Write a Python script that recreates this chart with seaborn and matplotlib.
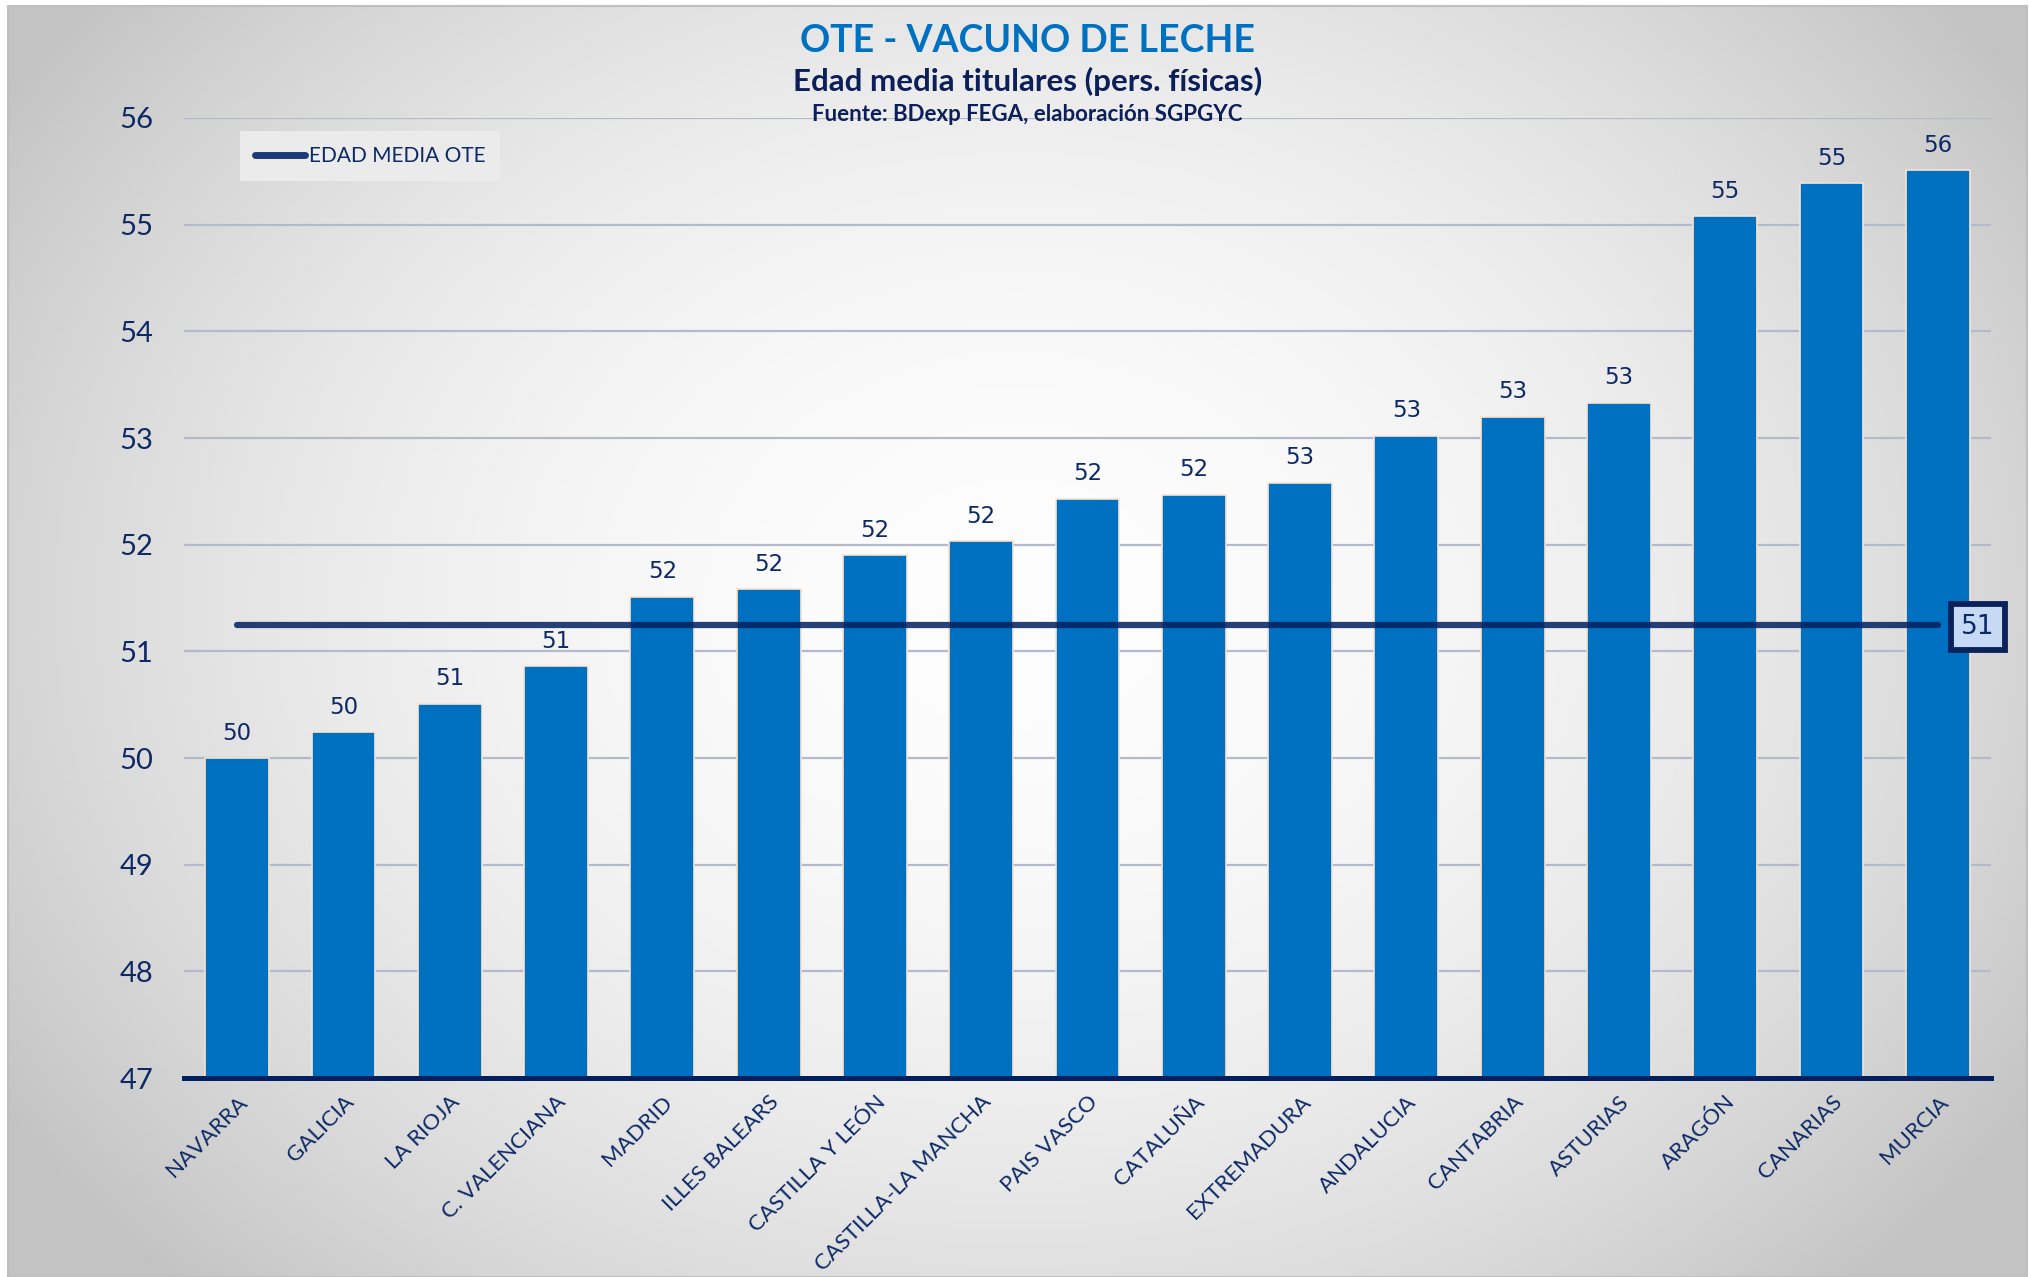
import numpy as np
import matplotlib
matplotlib.use('Agg')
import matplotlib.pyplot as plt
import seaborn as sns
from matplotlib.lines import Line2D

# datos
regions = ['NAVARRA', 'GALICIA', 'LA RIOJA', 'C. VALENCIANA', 'MADRID', 'ILLES BALEARS',
           'CASTILLA Y LEÓN', 'CASTILLA-LA MANCHA', 'PAIS VASCO', 'CATALUÑA', 'EXTREMADURA',
           'ANDALUCIA', 'CANTABRIA', 'ASTURIAS', 'ARAGÓN', 'CANARIAS', 'MURCIA']
ages = [50.0, 50.24, 50.51, 50.86, 51.51, 51.58, 51.9, 52.03, 52.43, 52.47, 52.58,
        53.02, 53.2, 53.33, 55.08, 55.39, 55.51]
mean_age = 51.25
y_ticks = [47, 48, 49, 50, 51, 52, 53, 54, 55, 56]

NAVY = '#0D2A66'
BLUE = '#0070C0'

sns.set_style('white')
plt.rcParams['font.family'] = ['Lato', 'DejaVu Sans']

fig = plt.figure(figsize=(20.31, 12.77), dpi=100)
fig.patch.set_facecolor('white')

# fondo con degradado radial
bg = fig.add_axes([0.0039, 0.0, 0.9941, 0.9953], zorder=-5)
gx, gy = np.meshgrid(np.linspace(0, 1, 400), np.linspace(0, 1, 300))
r2 = ((gx - 0.5) / 0.62) ** 2 + ((gy - 0.47) / 0.78) ** 2
shade = np.clip(253 - 62 * r2, 195, 253) / 255.0
bg.imshow(np.dstack([shade, shade, shade]), aspect='auto', extent=[0, 1, 0, 1])
bg.set_xticks([])
bg.set_yticks([])
for s in bg.spines.values():
    s.set_color('#BFBFBF')
    s.set_linewidth(1.5)

ax = fig.add_axes([0.0906, 0.1558, 0.8897, 0.7518])
ax.patch.set_alpha(0)

sns.barplot(x=regions, y=ages, color=BLUE, saturation=1, width=0.6,
            edgecolor='#FBE3CF', linewidth=1.2, ax=ax, zorder=3)

pos = np.arange(len(regions))
ax.plot(pos, [mean_age] * len(regions), color='#002060', alpha=0.85, lw=4.5,
        solid_capstyle='round', zorder=4)

ax.set_ylim(y_ticks[0], y_ticks[-1])
ax.set_xlim(-0.5, len(regions) - 0.5)
ax.set_yticks(y_ticks)
ax.yaxis.grid(True, color='#B4BACB', lw=1.6, zorder=0)
ax.set_axisbelow(True)
for side in ['top', 'right', 'left']:
    ax.spines[side].set_visible(False)
ax.spines['bottom'].set_color('#002060')
ax.spines['bottom'].set_linewidth(3.6)
ax.spines['bottom'].set_zorder(5)

ax.tick_params(axis='y', length=0, pad=22, labelsize=21, labelcolor=NAVY)
ax.tick_params(axis='x', length=0, pad=10, labelsize=16, labelcolor=NAVY)
for lab in ax.get_xticklabels():
    lab.set_rotation(45)
    lab.set_ha('right')
    lab.set_va('top')
    lab.set_rotation_mode('anchor')

# etiquetas de valor
for i, v in enumerate(ages):
    ax.annotate(f'{v:.0f}', (i, v), xytext=(0, 18), textcoords='offset points',
                ha='center', va='center', fontsize=16.5, color=NAVY,
                family='DejaVu Sans', zorder=6)

ax.annotate(f'{mean_age:.0f}', (len(regions) - 1, mean_age), xytext=(29, -2),
            textcoords='offset points', ha='center', va='center', fontsize=19,
            color=NAVY, family='DejaVu Sans', zorder=7, annotation_clip=False,
            bbox=dict(boxstyle='square,pad=0.38', fc='#C6D9F5', ec='#0A225C', lw=4.2))

handle = Line2D([], [], color='#1F3A78', lw=5, solid_capstyle='round')
leg = ax.legend([handle], ['EDAD MEDIA OTE'], loc='upper left',
                bbox_to_anchor=(0.031, 0.986), borderaxespad=0, frameon=True,
                fancybox=False, fontsize=15, handlelength=2.4, handletextpad=0.2,
                borderpad=0.7, labelcolor=NAVY)
leg.get_frame().set_facecolor('#EBEBEB')
leg.get_frame().set_edgecolor('none')
leg.get_frame().set_alpha(1)

fig.text(0.506, 0.9593, 'OTE - VACUNO DE LECHE', ha='center', va='baseline',
         fontsize=27, fontweight='bold', color=BLUE)
fig.text(0.506, 0.929, 'Edad media titulares (pers. físicas)', ha='center',
         va='baseline', fontsize=22.5, fontweight='bold', color='#0B1F5A')
fig.text(0.506, 0.905, 'Fuente: BDexp FEGA, elaboración SGPGYC', ha='center',
         va='baseline', fontsize=16, fontweight='bold', color='#0B1F5A')

fig.savefig('out.png', dpi=100)
